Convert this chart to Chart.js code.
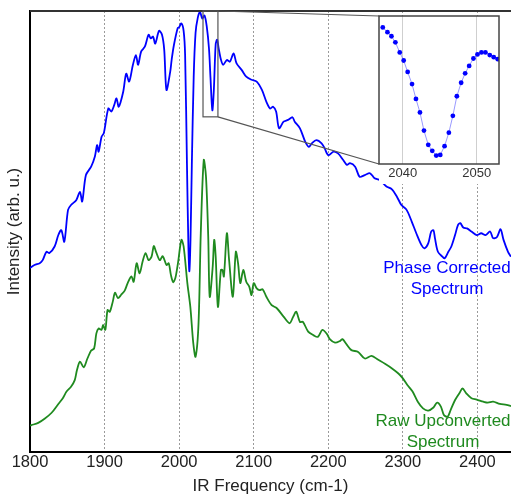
<!DOCTYPE html>
<html><head><meta charset="utf-8">
<script src="https://cdn.jsdelivr.net/npm/chart.js@4/dist/chart.umd.min.js"></script>
<style>
html,body{margin:0;padding:0;background:#fff;overflow:hidden}
#wrap{position:relative;width:511px;height:498px}
#main{position:absolute;left:0;top:0}
#inset{position:absolute;left:374px;top:11px}
</style></head><body>
<div id="wrap"><canvas id="main" width="511" height="498"></canvas><canvas id="inset" width="130" height="177"></canvas></div>
<script>
// ---- data (IR frequency in cm-1, intensity in arbitrary units) ----
const xTicks = [1800, 1900, 2000, 2100, 2200, 2300, 2400];
const insetTicks = [2040, 2050];

const blueX = [1800,1806,1813,1817,1822,1826,1833,1838,1842,1846,1851,1855,1862,1867,1870,1875,1882,1887,1890,1892,1896,1899,1905,1909,1913,1916,1919,1925,1929,1933,1938,1942,1945,1949,1954,1959,1962,1965,1968,1973,1977,1980,1983,1988,1990,1993,1998,2000,2003,2006,2008,2010.5,2012.5,2013.7,2015.2,2017,2019.5,2022,2025,2028,2031,2034,2037,2040,2042,2044.5,2046.5,2049,2051,2053,2056,2059,2064,2068,2073,2077,2084,2090,2097,2104,2111,2117,2122,2126,2130,2134,2140,2146,2152,2155,2162,2169,2174,2178,2184,2191,2195,2200,2207,2213,2220,2225,2229,2236,2242,2249,2256,2262,2269,2278,2285,2292,2298,2305,2312,2318,2325,2329,2334,2338,2341,2343,2347,2353,2356,2361,2365,2370,2374,2377,2381,2386,2392,2399,2405,2411,2417,2421,2426,2431,2435,2441,2445];
const blueY = [41.7,42.4,42.8,43.5,45.4,45.1,46.6,49.2,50.3,47.7,54.9,56.0,57.1,59.0,56.8,62.8,64.7,67.0,69.6,68.1,71.5,72.3,77.9,77.2,78.7,80.2,78.3,81.7,85.8,84.0,87.8,90.0,87.8,90.8,91.9,94.6,93.8,94.2,92.6,95.5,94.6,91.2,82.1,86.2,89.0,92.3,96.1,96.3,97.2,95.5,90.0,65.0,46.0,41.0,48.0,65.0,85.0,95.0,98.5,99.8,98.3,99.0,96.5,91.5,85.0,77.5,82.0,92.5,93.5,91.5,89.0,87.8,88.9,88.5,90.4,88.1,86.6,85.1,84.4,84.0,82.1,79.4,77.9,78.3,77.2,73.4,74.9,75.3,75.9,74.9,73.4,70.4,69.2,70.0,70.7,70.0,68.9,67.3,68.1,67.7,66.2,65.1,65.5,64.7,62.4,62.8,63.2,62.1,61.7,60.2,59.6,57.9,56.0,54.9,52.2,49.6,46.9,46.2,47.3,50.0,50.3,48.5,45.4,44.3,43.9,45.4,46.6,49.2,51.5,51.9,50.9,50.7,50.0,49.2,49.6,49.2,50.0,48.5,48.7,50.5,48.1,45.4,44.3];

const greenX = [1800,1802,1811,1820,1829,1838,1844,1849,1855,1860,1863,1867,1872,1877,1882,1886,1889,1892,1896,1898,1901,1904,1907,1911,1914,1918,1922,1927,1931,1936,1939,1943,1947,1951,1955,1959,1963,1966,1969,1974,1978,1983,1986,1989,1992,1995,1997,1999,2003,2006,2011,2015,2019,2022,2026,2029,2033,2036,2039,2041,2045,2047,2049,2052,2056,2058,2060,2064,2067,2072,2076,2079,2082,2086,2090,2094,2097,2100,2104,2108,2112,2117,2124,2131,2140,2148,2153,2157,2162,2166,2173,2180,2186,2192,2198,2202,2209,2216,2219,2225,2231,2240,2249,2258,2267,2276,2285,2294,2300,2306,2313,2320,2327,2334,2341,2346,2351,2355,2360,2364,2370,2376,2380,2385,2392,2399,2408,2414,2421,2430,2439,2445];
const greenY = [6.0,6.1,6.6,7.6,8.9,10.9,12.2,13.7,14.8,16.3,18.6,20.5,19.2,21.2,23.0,23.5,26.9,28.0,27.7,28.8,27.7,32.2,31.8,34.1,36.1,34.9,35.6,36.6,38.3,39.8,38.6,42.8,40.5,43.2,45.1,43.5,44.3,46.7,45.4,43.5,44.4,42.4,42.8,40.1,38.5,39.5,41.3,43.5,48.1,46.6,38.3,32.9,24.6,21.6,29.2,49.6,66.2,62.4,48.8,35.2,42.0,48.1,44.3,32.9,41.3,41.3,39.8,49.6,43.5,35.2,45.4,42.8,38.3,41.3,38.6,37.5,35.6,38.3,37.1,36.7,36.9,35.2,33.3,32.6,30.7,29.2,30.7,31.8,29.5,29.5,27.3,26.5,26.1,27.7,26.8,25.6,24.8,25.2,25.6,24.3,23.1,22.7,21.2,21.8,20.9,20.0,19.0,17.8,16.7,15.2,13.7,11.4,9.9,9.4,10.1,11.2,10.3,8.4,8.0,9.5,11.8,13.4,14.4,13.3,12.2,11.9,11.4,11.2,11.4,10.9,10.7,10.4];

const insetX = [2037.31,2037.94,2038.48,2039.01,2039.60,2040.13,2040.67,2041.26,2041.79,2042.33,2042.87,2043.45,2043.99,2044.53,2045.07,2045.65,2046.23,2046.77,2047.31,2047.89,2048.43,2048.97,2049.55,2050.09,2050.63,2051.17,2051.75,2052.29,2052.83];
const insetY = [96.5,95.8,95.2,94.3,92.8,91.6,89.9,88.1,85.9,83.9,81.2,79.1,78.2,77.5,77.6,78.9,80.9,83.4,86.3,88.3,89.7,90.8,91.9,92.5,92.8,92.8,92.4,92.1,91.8];

// zoom window shown in the inset (data coordinates)
const zoomX = [2032, 2052];
const zoomY = [76, 100];

// ---- styling ----
const FONT = '"Liberation Sans", Arial, sans-serif';
const BLUE = '#0000ff';
const GREEN = '#1f8a1f';
const INSET_BOX = {left: 379, top: 16, right: 499, bottom: 164};

const pts = (xs, ys) => xs.map((x, i) => ({x, y: ys[i]}));

const decor = {
  id: 'decor',
  afterDatasetsDraw(chart) {
    const {ctx, chartArea: ca, scales: {x, y}} = chart;
    ctx.save();
    ctx.strokeStyle = '#333'; ctx.lineWidth = 2;
    ctx.beginPath(); ctx.moveTo(ca.left, ca.top); ctx.lineTo(ca.right, ca.top); ctx.stroke();
    const x0 = x.getPixelForValue(zoomX[0]), x1 = x.getPixelForValue(zoomX[1]);
    const yT = y.getPixelForValue(zoomY[1]), yB = y.getPixelForValue(zoomY[0]);
    ctx.strokeStyle = '#555'; ctx.lineWidth = 1.2;
    ctx.strokeRect(x0, yT, x1 - x0, yB - yT);
    ctx.beginPath();
    ctx.moveTo(x1, yT); ctx.lineTo(INSET_BOX.left, INSET_BOX.top);
    ctx.moveTo(x1, yB); ctx.lineTo(INSET_BOX.left, INSET_BOX.bottom);
    ctx.stroke();
    ctx.font = '17px ' + FONT;
    ctx.textAlign = 'center'; ctx.textBaseline = 'middle';
    ctx.fillStyle = BLUE;
    ctx.fillText('Phase Corrected', 447, 268);
    ctx.fillText('Spectrum', 447, 289);
    ctx.fillStyle = GREEN;
    ctx.fillText('Raw Upconverted', 443, 421);
    ctx.fillText('Spectrum', 443, 442);
    ctx.restore();
  }
};

new Chart(document.getElementById('main'), {
  type: 'line',
  data: {
    datasets: [
      {data: pts(greenX, greenY), borderColor: GREEN, borderWidth: 1.8, pointRadius: 0, tension: 0.3, fill: false},
      {data: pts(blueX, blueY), borderColor: BLUE, borderWidth: 1.8, pointRadius: 0, tension: 0.3, fill: false}
    ]
  },
  options: {
    responsive: false, animation: false, devicePixelRatio: 1,
    layout: {padding: {top: 11, left: 0, right: 0, bottom: 0}},
    plugins: {legend: {display: false}, tooltip: {enabled: false}},
    scales: {
      x: {
        type: 'linear', min: 1800, max: 2445,
        afterBuildTicks: s => { s.ticks = xTicks.map(v => ({value: v})); },
        afterFit: s => { s.height = 46; },
        ticks: {callback: v => String(v), font: {family: FONT, size: 16.5}, color: '#222', padding: 1, maxRotation: 0, autoSkip: false},
        grid: {color: '#9a9a9a', lineWidth: 1, drawTicks: false},
        border: {display: true, color: '#000', width: 2, dash: [2, 2]},
        title: {display: true, text: 'IR Frequency (cm-1)', font: {family: FONT, size: 17}, color: '#222', padding: {top: 0, bottom: 1}}
      },
      y: {
        min: 0, max: 100,
        afterFit: s => { s.width = 30; },
        ticks: {display: false},
        grid: {display: false, drawTicks: false},
        border: {display: true, color: '#000', width: 2},
        title: {display: true, text: 'Intensity (arb. u.)', font: {family: FONT, size: 17}, color: '#222', padding: {top: 4, bottom: 0}}
      }
    }
  },
  plugins: [decor]
});

const insetDecor = {
  id: 'insetDecor',
  beforeDraw(chart) {
    const {ctx, chartArea: ca} = chart;
    ctx.save(); ctx.fillStyle = '#fff';
    ctx.fillRect(ca.left, ca.top, ca.right - ca.left, ca.bottom - ca.top + 20);
    ctx.restore();
  },
  afterDraw(chart) {
    const {ctx, chartArea: ca} = chart;
    ctx.save(); ctx.strokeStyle = '#444'; ctx.lineWidth = 1.5;
    ctx.strokeRect(ca.left, ca.top, ca.right - ca.left, ca.bottom - ca.top);
    ctx.restore();
  }
};

new Chart(document.getElementById('inset'), {
  type: 'line',
  data: {datasets: [{data: pts(insetX, insetY), borderColor: 'rgba(70,70,255,0.55)', borderWidth: 1,
    pointRadius: 2.4, pointBackgroundColor: BLUE, pointBorderColor: BLUE, pointBorderWidth: 0, tension: 0}]},
  options: {
    responsive: false, animation: false, devicePixelRatio: 1,
    layout: {padding: {top: 5, left: 5, right: 5, bottom: 0}},
    plugins: {legend: {display: false}, tooltip: {enabled: false}},
    scales: {
      x: {
        type: 'linear', min: 2036.8, max: 2053,
        afterBuildTicks: s => { s.ticks = insetTicks.map(v => ({value: v})); },
        afterFit: s => { s.height = 24; },
        ticks: {callback: v => String(v), font: {family: FONT, size: 13}, color: '#333', padding: 2, maxRotation: 0, autoSkip: false},
        grid: {color: '#cfcfcf', lineWidth: 1, drawTicks: false},
        border: {display: false}
      },
      y: {min: 76.25, max: 98.2, display: false}
    }
  },
  plugins: [insetDecor]
});
</script>
</body></html>
